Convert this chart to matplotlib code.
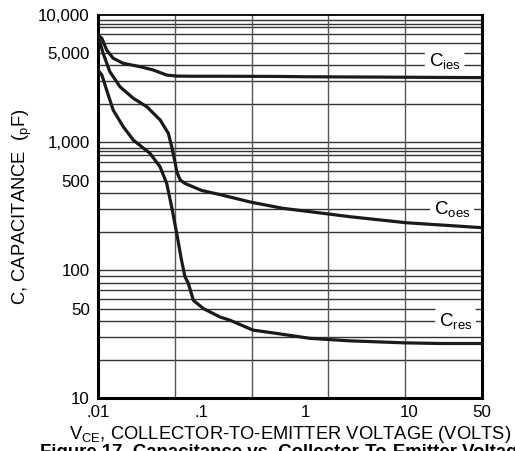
import numpy as np
import matplotlib
matplotlib.use("Agg")
import matplotlib.pyplot as plt
from matplotlib.ticker import NullLocator

plt.rcParams["font.family"] = ["Liberation Sans", "DejaVu Sans"]
plt.rcParams["mathtext.fontset"] = "custom"
plt.rcParams["mathtext.rm"] = "Liberation Sans"
plt.rcParams["mathtext.it"] = "Liberation Sans"

# Data (VCE in volts, C in pF)
vce_ies = [0.01, 0.0109, 0.0121, 0.014, 0.0175, 0.0254, 0.0341, 0.0459, 0.0573,
           0.08, 0.15, 0.5, 1, 5, 20, 50]
c_ies = [6900, 6510, 5280, 4550, 4150, 3910, 3680, 3360, 3300,
         3290, 3290, 3280, 3260, 3240, 3220, 3210]

vce_oes = [0.01, 0.0112, 0.013, 0.0163, 0.0219, 0.0295, 0.0396, 0.0476, 0.0512,
           0.0535, 0.0555, 0.0573, 0.062, 0.0688, 0.1, 0.15, 0.3, 0.6, 1.67,
           2.67, 9.33, 50]
c_oes = [6900, 4970, 3570, 2720, 2210, 1900, 1500, 1175, 930,
         790, 685, 590, 507, 477, 420, 390, 340, 305, 275,
         262, 235, 215]

vce_res = [0.01, 0.0109, 0.0121, 0.014, 0.0175, 0.0219, 0.0317, 0.0396, 0.0459,
           0.0512, 0.0573, 0.0637, 0.0688, 0.0741, 0.083, 0.104, 0.15, 0.187,
           0.31, 0.527, 1.1, 2.67, 9.1, 20, 50]
c_res = [3680, 3360, 2570, 1790, 1325, 1042, 820, 644, 477,
         313, 194, 120, 89, 79, 58, 50, 43, 40.6,
         34, 32, 29.3, 28, 27, 26.7, 26.7]

x_ticks = [0.01, 0.1, 1, 10, 50]
x_labels = [".01", ".1", "1", "10", "50"]
y_ticks = [10, 50, 100, 500, 1000, 5000, 10000]
y_labels = ["10", "50", "100", "500", "1,000", "5,000", "10,000"]

fig = plt.figure(figsize=(5.15, 4.51), dpi=100)
ax = fig.add_axes([0.1903, 0.1175, 0.7456, 0.8503])
ax.set_xscale("log")
ax.set_yscale("log")
ax.set_xlim(0.01, 50)
ax.set_ylim(10, 10000)

# grid: horizontal at 1..9 per decade (plus 8.5 in the upper two), vertical evenly spaced
for dec in [10, 100, 1000]:
    mults = list(range(1, 10)) + ([8.5] if dec >= 100 else [])
    for m in mults:
        if m * dec > 10:
            ax.axhline(m * dec, color="#333333", lw=1.0, zorder=1)
lo, hi = np.log10(0.01), np.log10(50)
for f in np.linspace(0, 1, 6)[1:-1]:
    ax.axvline(10 ** (lo + f * (hi - lo)), color="#555555", lw=1.0, zorder=1)

for xs, ys in [(vce_ies, c_ies), (vce_oes, c_oes), (vce_res, c_res)]:
    ax.plot(xs, ys, color="#1a1a1a", lw=2.3, zorder=3, solid_joinstyle="round")

box = dict(facecolor="white", edgecolor="none", boxstyle="round,pad=0.2")
ax.text(15.3, 4350, r"C$_{\rm ies}$", fontsize=13.5, va="center", ha="left", bbox=box, zorder=4)
ax.text(17.2, 300, r"C$_{\rm oes}$", fontsize=13.5, va="center", ha="left", bbox=box, zorder=4)
ax.text(19.2, 40, r"C$_{\rm res}$", fontsize=13.5, va="center", ha="left", bbox=box, zorder=4)

ax.xaxis.set_minor_locator(NullLocator())
ax.yaxis.set_minor_locator(NullLocator())
ax.set_xticks(x_ticks)
ax.set_xticklabels(x_labels)
ax.set_yticks(y_ticks)
ax.set_yticklabels(y_labels)
ax.tick_params(length=0, labelsize=12.2, pad=5)
ax.tick_params(axis="y", pad=6)

for side in ["left", "bottom", "right"]:
    ax.spines[side].set_linewidth(2.2)
ax.spines["top"].set_linewidth(1.3)

ax.set_xlabel(r"V$_{\rm CE}$, COLLECTOR-TO-EMITTER VOLTAGE (VOLTS)", fontsize=13.2, labelpad=3)
ax.set_ylabel(r"C, CAPACITANCE  ($_{\rm p}$F)", fontsize=13.2, labelpad=3)

fig.text(0.078, 0.016, "Figure 17. Capacitance vs. Collector-To-Emitter Voltage",
         fontsize=13.4, fontweight="bold", va="top", ha="left")

fig.savefig("out.png", dpi=100)
